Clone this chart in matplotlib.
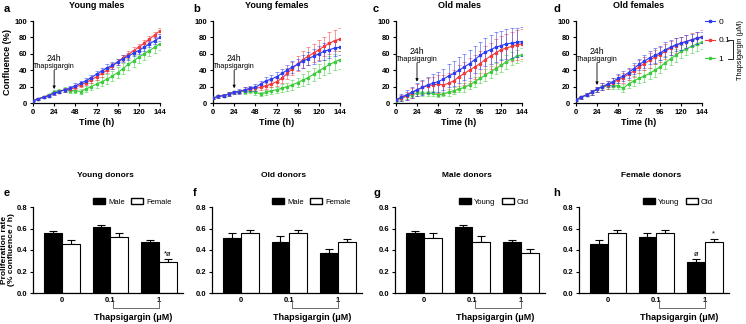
import matplotlib
matplotlib.use("Agg")
import matplotlib.pyplot as plt
from matplotlib.lines import Line2D
from matplotlib.patches import Patch
import numpy as np

plt.rcParams['font.family'] = ['Liberation Sans', 'DejaVu Sans']

# ---------------- data ----------------
time_h = list(range(0, 145, 6))
conc_labels = ["0", "0.1", "1"]
panel_titles_top = ["Young males", "Young females", "Old males", "Old females"]

ym_0 = [3,5,7,9,12,14,16,18,21,24,27,31,35,39,43,46,50,54,57,61,64,68,72,76,80]
ym_01 = [3,5,7,9,12,14,16,17,19,22,25,28,32,36,40,45,50,55,59,64,68,73,78,83,88]
ym_1 = [3,5,7,10,14,15,16,15,15,14,17,20,23,26,29,33,37,42,47,51,56,60,64,68,72]
ym_0_err = [0.5,1,1,1.5,2,2,2,2.5,3,3,3,3.5,3.5,4,4,4,4,4,4,4,4,4,4,4,4]
ym_01_err = [0.5,1,1,1.5,2,2,2,2.5,2.5,3,3,3.5,4,4,4,4,4,4,4,4,4,4,4,4,4]
ym_1_err = [0.5,1,1,1.5,2,2.5,3,3,3,3.5,4,4.5,5,5.5,6,6,6.5,7,7,7,7,7,7,7,7]

yf_0 = [6,8,9,11,13,14,16,18,19,23,27,29,32,36,40,44,47,51,54,57,60,63,65,67,68]
yf_01 = [6,8,9,11,13,14,16,17,18,19,21,23,26,30,36,42,48,53,57,61,65,69,73,76,78]
yf_1 = [6,8,9,11,13,14,14,15,13,11,13,15,16,18,20,22,25,28,31,35,39,43,47,50,53]
yf_0_err = [1,2,2,2,2,3,3,3,4,4,5,5,6,6,6,7,7,8,8,9,9,10,10,10,10]
yf_01_err = [1,2,2,2,2,2,3,3,3,3,4,4,5,6,7,8,9,10,11,11,12,12,13,13,14]
yf_1_err = [1,2,2,2,2,2,3,3,3,3,3,4,4,5,5,6,6,7,8,8,9,9,10,10,11]

om_0 = [4,7,10,13,16,19,22,24,26,29,33,36,40,44,48,53,58,62,65,68,70,72,73,74,75]
om_01 = [4,6,9,12,16,19,21,22,23,22,24,27,32,36,40,44,48,53,57,61,65,67,69,71,72]
om_1 = [3,6,8,10,12,12,12,12,10,11,13,15,17,19,22,26,30,34,38,42,46,50,54,57,59]
om_0_err = [1,4,6,7,8,9,10,11,12,13,14,15,16,16,17,17,17,17,18,18,18,18,18,18,18]
om_01_err = [1,4,5,6,7,8,9,10,11,12,12,13,14,14,15,15,16,16,16,17,17,17,18,18,18]
om_1_err = [1,2,3,3,3,3,3,3,3,3,4,4,4,5,5,6,6,7,7,7,8,8,8,8,8]

of_0 = [4,7,10,13,17,20,23,26,30,33,37,42,47,51,55,58,61,65,68,71,73,75,77,79,80]
of_01 = [4,7,10,13,17,20,22,25,28,31,35,39,44,48,52,56,59,63,67,70,73,75,77,79,81]
of_1 = [4,7,10,13,17,19,21,21,21,18,23,27,30,33,36,40,44,49,54,58,63,66,69,72,74]
of_0_err = [1,2,2,3,3,4,4,5,5,6,6,7,7,8,8,9,9,9,9,8,8,8,7,7,7]
of_01_err = [1,2,2,3,3,4,5,5,6,6,7,7,8,8,9,9,9,9,9,9,8,8,8,8,8]
of_1_err = [1,2,2,3,3,3,4,4,4,5,5,6,6,7,7,8,8,8,8,8,8,8,8,8,8]

top_series = [
    (ym_0, ym_0_err, ym_01, ym_01_err, ym_1, ym_1_err),
    (yf_0, yf_0_err, yf_01, yf_01_err, yf_1, yf_1_err),
    (om_0, om_0_err, om_01, om_01_err, om_1, om_1_err),
    (of_0, of_0_err, of_01, of_01_err, of_1, of_1_err),
]

bar_categories = ["0", "0.1", "1"]
panel_titles_bot = ["Young donors", "Old donors", "Male donors", "Female donors"]
legend_pairs = [("Male", "Female"), ("Male", "Female"), ("Young", "Old"), ("Young", "Old")]

young_male_rate = [0.56, 0.61, 0.47]
young_male_err = [0.015, 0.02, 0.02]
young_female_rate = [0.46, 0.52, 0.29]
young_female_err = [0.03, 0.035, 0.025]
old_male_rate = [0.51, 0.47, 0.375]
old_male_err = [0.05, 0.06, 0.035]
old_female_rate = [0.56, 0.555, 0.475]
old_female_err = [0.025, 0.03, 0.03]

bot_series = [
    (young_male_rate, young_male_err, young_female_rate, young_female_err),
    (old_male_rate, old_male_err, old_female_rate, old_female_err),
    (young_male_rate, young_male_err, old_male_rate, old_male_err),
    (young_female_rate, young_female_err, old_female_rate, old_female_err),
]
# significance marks: (panel, series index 0/1, category index, text)
sig_marks = [(0, 1, 2, "*ø"), (3, 0, 2, "ø"), (3, 1, 2, "*")]

# ---------------- layout ----------------
W, H = 746, 324
fig = plt.figure(figsize=(W / 100, H / 100), dpi=100)

def ax_px(x0, x1, ytop, ybot):
    return fig.add_axes([x0 / W, 1 - ybot / H, (x1 - x0) / W, (ybot - ytop) / H])

colors = ["#2b3cf5", "#f23a3a", "#3ccc3c"]
top_boxes = [(33, 160), (213, 340), (396, 522), (576, 702)]
letters_top = ["a", "b", "c", "d"]
letter_x = [4, 193, 373, 553]
arrow_tip = [17, 18, 26, 22]
txt_24 = [54, 54, 63, 63]

tick_fs = 5.5
for i, (x0, x1) in enumerate(top_boxes):
    ax = ax_px(x0, x1, 21, 103)
    s = top_series[i]
    for k in range(3):
        cont = ax.errorbar(time_h, s[2 * k], yerr=s[2 * k + 1], color=colors[k], lw=0.8,
                           marker='s', ms=1.4, elinewidth=0.6, capsize=1.2, capthick=0.6,
                           ecolor=colors[k], zorder=3 - k * 0.1)
        for cl in cont[1]:
            cl.set_alpha(0.6)
        for bl in cont[2]:
            bl.set_alpha(0.6)
    ax.set_xlim(0, 144)
    ax.set_ylim(0, 100)
    ax.set_xticks(range(0, 145, 24))
    ax.set_yticks(range(0, 101, 20))
    for sp in ['top', 'right']:
        ax.spines[sp].set_visible(False)
    for sp in ['left', 'bottom']:
        ax.spines[sp].set_linewidth(0.9)
    ax.tick_params(labelsize=tick_fs, length=2.5, width=0.8, pad=1.5)
    for lab in ax.get_xticklabels() + ax.get_yticklabels():
        lab.set_fontweight('bold')
    ax.set_xlabel("Time (h)", fontsize=6.5, fontweight='bold', labelpad=2)
    if i == 0:
        ax.set_ylabel("Confluence (%)", fontsize=6.5, fontweight='bold', labelpad=2)
    ax.text(0.5, 1.19, panel_titles_top[i], transform=ax.transAxes, fontsize=6.5,
            fontweight='bold', ha='center', va='center')
    fig.text(letter_x[i] / W, 1 - 9 / H, letters_top[i], fontsize=8, fontweight='bold',
             va='center', ha='left')
    ax.text(24, txt_24[i], "24h", fontsize=6.2, ha='center', va='center')
    ax.text(24, txt_24[i] - 9.5, "Thapsigargin", fontsize=5.2, ha='center', va='center')
    ax.annotate("", xy=(24, arrow_tip[i]), xytext=(24, txt_24[i] - 14),
                arrowprops=dict(arrowstyle='-|>', color='black', lw=0.6,
                                mutation_scale=4, shrinkA=0, shrinkB=0))

# legend for top row
handles = [Line2D([0], [0], color=c, lw=0.8, marker='s', ms=1.5) for c in colors]
fig.legend(handles, conc_labels, loc='upper left', bbox_to_anchor=(705 / W, 1 - 18 / H),
           frameon=False, fontsize=6, handlelength=1.2, handletextpad=0.4,
           labelspacing=1.3, borderaxespad=0, borderpad=0)
bx = 733 / W
fig.add_artist(Line2D([728 / W, bx, bx, 728 / W],
                      [1 - 40 / H, 1 - 40 / H, 1 - 59 / H, 1 - 59 / H],
                      color='black', lw=0.6))
fig.text(740 / W, 1 - 50 / H, "Thapsigargin (μM)", rotation=90, fontsize=5.3,
         ha='center', va='center')

# ---------------- bottom row ----------------
bot_boxes = [(33, 183), (212, 362), (395, 545), (579, 729)]
letters_bot = ["e", "f", "g", "h"]
bw = 0.37
xc = np.arange(len(bar_categories))
for i, (x0, x1) in enumerate(bot_boxes):
    ax = ax_px(x0, x1, 207, 293)
    m1, e1, m2, e2 = bot_series[i]
    ax.bar(xc - bw / 2, m1, bw, color='black', edgecolor='black', lw=0.8, zorder=2)
    ax.errorbar(xc - bw / 2, m1, yerr=[[0] * 3, e1], fmt='none', ecolor='black',
                elinewidth=0.8, capsize=3, capthick=0.8, zorder=1)
    ax.bar(xc + bw / 2, m2, bw, color='white', edgecolor='black', lw=0.8, zorder=2)
    ax.errorbar(xc + bw / 2, m2, yerr=[[0] * 3, e2], fmt='none', ecolor='black',
                elinewidth=0.8, capsize=3, capthick=0.8, zorder=1)
    ax.set_xlim(-0.6, 2.5)
    ax.set_ylim(0, 0.8)
    ax.set_yticks([0, 0.2, 0.4, 0.6, 0.8])
    ax.set_yticklabels(["0.0", "0.2", "0.4", "0.6", "0.8"])
    ax.set_xticks(xc)
    ax.set_xticklabels(bar_categories)
    for sp in ['top', 'right']:
        ax.spines[sp].set_visible(False)
    for sp in ['left', 'bottom']:
        ax.spines[sp].set_linewidth(0.9)
    ax.tick_params(axis='y', labelsize=tick_fs, length=2.5, width=0.8, pad=1.5)
    ax.tick_params(axis='x', labelsize=tick_fs, length=0, pad=3)
    for lab in ax.get_xticklabels() + ax.get_yticklabels():
        lab.set_fontweight('bold')
    # bracket 0.1 -> 1
    ax.add_line(Line2D([1.05, 1.05, 2, 2], [-0.085, -0.18, -0.18, -0.085],
                       transform=ax.get_xaxis_transform(), color='#555555', lw=0.6,
                       clip_on=False))
    ax.text(0.67, -0.28, "Thapsigargin (μM)", transform=ax.transAxes, fontsize=6.5,
            fontweight='bold', ha='center', va='center')
    ax.text(0.48, 1.37, panel_titles_bot[i], transform=ax.transAxes, fontsize=6,
            fontweight='bold', ha='center', va='center')
    fig.text(letter_x[i] / W, 1 - 193 / H, letters_bot[i], fontsize=8, fontweight='bold',
             va='center', ha='left')
    ax.legend([Patch(facecolor='black', edgecolor='black'),
               Patch(facecolor='white', edgecolor='black')], legend_pairs[i],
              loc='center', bbox_to_anchor=(0.66, 1.06), ncol=2, frameon=False,
              fontsize=5.5, handlelength=1.6, handleheight=0.8, handletextpad=0.4,
              columnspacing=0.8, borderpad=0, borderaxespad=0)
    if i == 0:
        ax.set_ylabel("Proliferation rate\n(% confluence / h)", fontsize=6.0,
                      fontweight='bold', labelpad=1.5, linespacing=1.0)
    for (p, sidx, cidx, txt) in sig_marks:
        if p == i:
            vals, errs = (m1, e1) if sidx == 0 else (m2, e2)
            xpos = xc[cidx] + (bw / 2 if sidx == 1 else -bw / 2)
            ax.text(xpos, vals[cidx] + errs[cidx] + 0.015, txt, fontsize=5.5,
                    ha='center', va='bottom')

fig.savefig("out.png", dpi=100)
